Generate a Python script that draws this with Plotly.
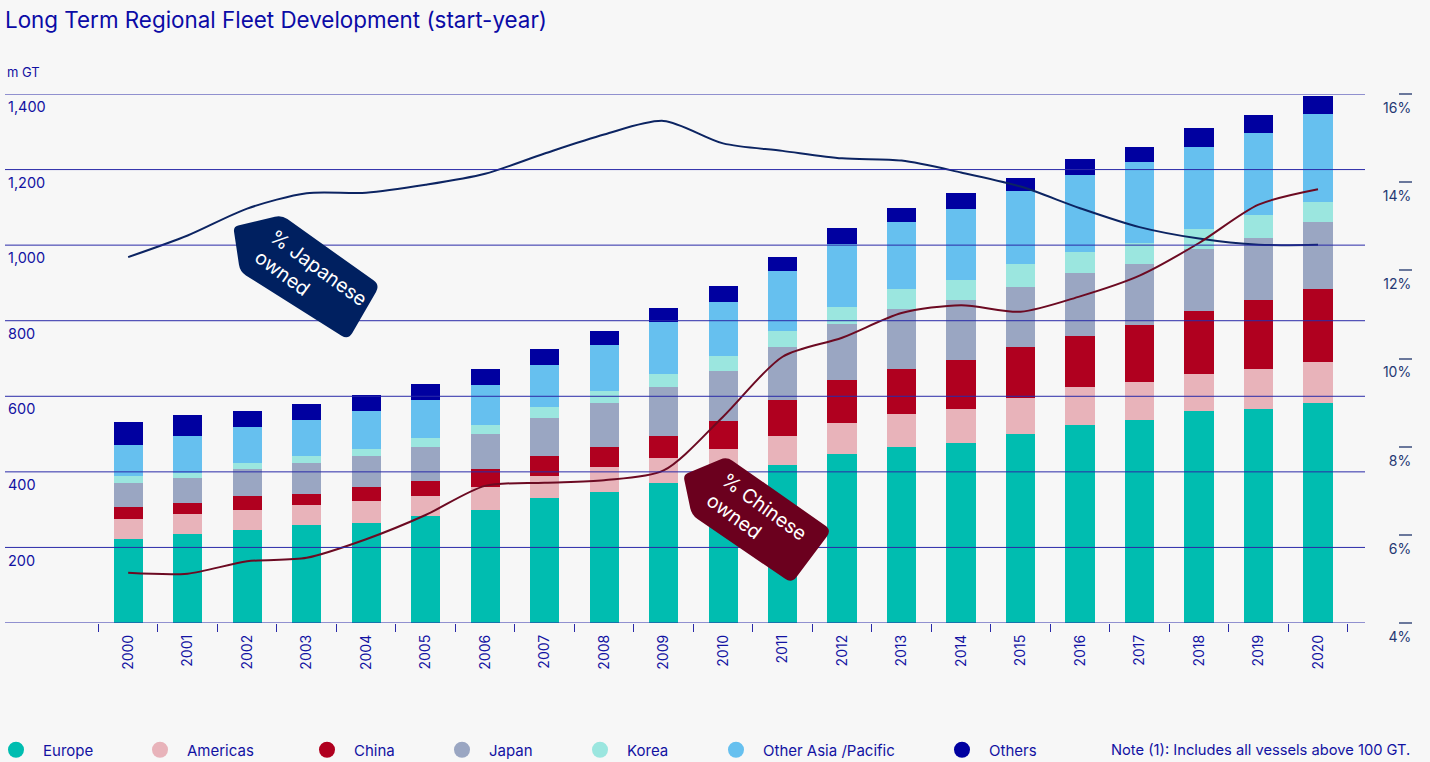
import numpy as np
import plotly.graph_objects as go

# ---------------- data ----------------
years = [str(y) for y in range(2000, 2021)]
europe = [222, 236, 246, 260, 265, 283, 299, 331, 347, 371, 395, 418, 447, 466, 477, 500, 524, 537, 561, 566, 582]
americas = [53, 53, 53, 53, 58, 53, 61, 58, 66, 65, 66, 77, 82, 87, 90, 95, 100, 101, 98, 106, 108]
china = [32, 29, 37, 29, 37, 40, 47, 53, 53, 59, 74, 95, 114, 119, 129, 135, 135, 151, 166, 182, 193]
japan = [64, 66, 71, 82, 82, 90, 93, 101, 116, 130, 132, 141, 149, 159, 159, 159, 167, 160, 164, 164, 178]
korea = [19, 13, 17, 18, 19, 24, 24, 29, 32, 34, 40, 42, 44, 53, 53, 60, 57, 58, 53, 61, 52]
other_asia = [81, 98, 94, 96, 100, 100, 106, 110, 122, 137, 142, 158, 167, 177, 187, 193, 202, 212, 219, 217, 235]
others = [61, 55, 43, 42, 42, 42, 42, 43, 37, 38, 43, 38, 42, 37, 43, 37, 42, 42, 48, 48, 48]

japanese_owned = [12.30, 12.79, 13.40, 13.75, 13.76, 13.94, 14.19, 14.65, 15.08, 15.39, 14.88,
                  14.71, 14.54, 14.49, 14.22, 13.90, 13.41, 12.98, 12.72, 12.58, 12.58]
chinese_owned = [5.14, 5.12, 5.40, 5.48, 5.90, 6.45, 7.11, 7.18, 7.24, 7.46, 8.68,
                 10.04, 10.47, 11.03, 11.21, 11.06, 11.41, 11.88, 12.62, 13.49, 13.84]

series_names = ["Europe", "Americas", "China", "Japan", "Korea", "Other Asia /Pacific", "Others"]
series_values = [europe, americas, china, japan, korea, other_asia, others]
left_ticks = [200, 400, 600, 800, 1000, 1200, 1400]
grid_vals = [0, 200, 400, 600, 800, 1000, 1200, 1400]
right_ticks = [4, 6, 8, 10, 12, 14, 16]
right_ticktext = ["4%", "6%", "8%", "10%", "12%", "14%", "16%"]

# ---------------- style ----------------
series_colors = ["#00bdb0", "#e8b3ba", "#b0001f", "#9aa6c2", "#9be6df", "#66c0ef", "#0000a0"]
legend_centers = [16, 160, 327, 462, 600, 736, 962]   # px position of legend dots
BLUE = "#1212a2"
GRID = "#2a2aa8"
BG = "#f7f7f7"
FONT = "Inter"
JP_COLOR = "#0c2462"
CN_COLOR = "#6c0a22"
JP_TAG = "#002060"
CN_TAG = "#6b001e"

W, H = 1430, 762
L, R, T, B = 5, 18, 94, 139
PW, PH = W - L - R, H - T - B


def px(x):
    return (x - L) / PW


def py(y):
    return (H - B - y) / PH


def tag_path(pts, radii):
    pts = [np.array(p, dtype=float) for p in pts]
    n = len(pts)
    parts = []
    for i in range(n):
        P, A, Bn = pts[i], pts[i - 1], pts[(i + 1) % n]
        r = radii[i]
        p1 = P + (A - P) / np.linalg.norm(A - P) * r
        p2 = P + (Bn - P) / np.linalg.norm(Bn - P) * r
        cmd = "M" if i == 0 else "L"
        parts.append(f"{cmd} {px(p1[0]):.5f},{py(p1[1]):.5f}")
        parts.append(f"Q {px(P[0]):.5f},{py(P[1]):.5f} {px(p2[0]):.5f},{py(p2[1]):.5f}")
    return " ".join(parts) + " Z"


fig = go.Figure()

for name, vals, col in zip(series_names, series_values, series_colors):
    fig.add_trace(go.Bar(x=years, y=vals, name=name, marker=dict(color=col, line=dict(width=0)),
                         width=0.49, showlegend=False, legendgroup=name))

fig.add_trace(go.Scatter(x=years, y=japanese_owned, yaxis="y2", mode="lines", name="% Japanese owned",
                         line=dict(color=JP_COLOR, width=2, shape="spline", smoothing=0.8), showlegend=False))
fig.add_trace(go.Scatter(x=years, y=chinese_owned, yaxis="y2", mode="lines", name="% Chinese owned",
                         line=dict(color=CN_COLOR, width=2, shape="spline", smoothing=0.8), showlegend=False))

legend_layouts = {}
for i, (name, col, cx) in enumerate(zip(series_names, series_colors, legend_centers)):
    lname = "legend" if i == 0 else f"legend{i + 1}"
    fig.add_trace(go.Scatter(x=[None], y=[None], mode="markers", name=name, legend=lname,
                             legendgroup=name, marker=dict(size=17, color=col, symbol="circle"),
                             showlegend=True, hoverinfo="skip"))
    legend_layouts[lname] = dict(x=(cx - 27 - L) / PW, xref="paper", xanchor="left",
                                 y=1 - 750 / H, yref="container", yanchor="middle",
                                 orientation="h", bgcolor="rgba(0,0,0,0)", borderwidth=0,
                                 itemwidth=44, font=dict(family=FONT, size=15, color=BLUE))

shapes = []
for v in grid_vals:
    shapes.append(dict(type="line", xref="x domain", x0=0, x1=1, yref="y", y0=v, y1=v,
                       line=dict(color=GRID, width=1), layer="above"))

jp_pts = [(233.3, 226.7), (281.7, 215.0), (380.0, 285.0), (348.3, 340.0), (240.0, 271.7)]
cn_pts = [(683.3, 475.0), (726.7, 456.7), (831.7, 530.0), (791.7, 583.3), (691.7, 515.0)]
shapes.append(dict(type="path", xref="paper", yref="paper", path=tag_path(jp_pts, [5, 7, 8, 8, 7]),
                   fillcolor=JP_TAG, line=dict(width=0), layer="above"))
shapes.append(dict(type="path", xref="paper", yref="paper", path=tag_path(cn_pts, [5, 7, 8, 8, 7]),
                   fillcolor=CN_TAG, line=dict(width=0), layer="above"))

annotations = [
    dict(text="m GT", xref="paper", yref="paper", x=0, y=py(72), xanchor="left", yanchor="middle",
         showarrow=False, font=dict(family=FONT, size=13, color=BLUE)),
    dict(text="Note (1): Includes all vessels above 100 GT.", xref="paper", yref="paper", x=1, y=py(750),
         xanchor="right", yanchor="middle", showarrow=False, font=dict(family=FONT, size=14.7, color=BLUE)),
    dict(text="% Japanese<br>owned", xref="paper", yref="paper", x=px(310.6), y=py(277.7),
         xanchor="center", yanchor="middle", align="left", textangle=36, showarrow=False,
         font=dict(family=FONT, size=19.5, color="white")),
    dict(text="% Chinese<br>owned", xref="paper", yref="paper", x=px(756.6), y=py(516.8),
         xanchor="center", yanchor="middle", align="left", textangle=36, showarrow=False,
         font=dict(family=FONT, size=19.5, color="white")),
]

fig.update_layout(
    width=W, height=H,
    margin=dict(l=L, r=R, t=T, b=B, autoexpand=False),
    paper_bgcolor=BG, plot_bgcolor=BG,
    barmode="stack",
    font=dict(family=FONT, color=BLUE),
    title=dict(text="Long Term Regional Fleet Development (start-year)", x=5 / W, xref="container",
               xanchor="left", y=1 - 20 / H, yref="container", yanchor="middle",
               font=dict(family=FONT, size=22.4, color="#0b0ba6")),
    xaxis=dict(type="category", domain=[0, (1365 - L) / PW], range=[-2.07, 20.79],
               tickmode="array", tickvals=years, ticktext=years, tickson="boundaries",
               ticks="outside", ticklen=8, tickcolor=GRID, tickwidth=1, tickangle=-90,
               tickfont=dict(family=FONT, size=14, color=BLUE), showgrid=False, zeroline=False,
               showline=False, ticklabelstandoff=8, automargin=False),
    yaxis=dict(range=[0, 1400], tickmode="array", tickvals=left_ticks, tickformat=",",
               showgrid=False, zeroline=False, showline=False, ticks="",
               ticklabelposition="inside", ticklabelshift=13,
               tickfont=dict(family=FONT, size=14.5, color=BLUE), automargin=False),
    yaxis2=dict(overlaying="y", anchor="free", position=1, side="left", range=[4, 16],
                tickmode="array", tickvals=right_ticks, ticktext=right_ticktext, ticks="outside",
                ticklen=13, tickcolor="#6a789c", tickwidth=1.5, showgrid=False, zeroline=False,
                showline=False, ticklabelshift=14, ticklabelstandoff=-15,
                tickfont=dict(family=FONT, size=14, color="#253873"), automargin=False),
    shapes=shapes,
    annotations=annotations,
    hovermode=False,
    **legend_layouts,
)

fig.write_html("out.html", config={"displayModeBar": False},
               post_script="document.body.style.margin='0';document.body.style.overflow='hidden';")
